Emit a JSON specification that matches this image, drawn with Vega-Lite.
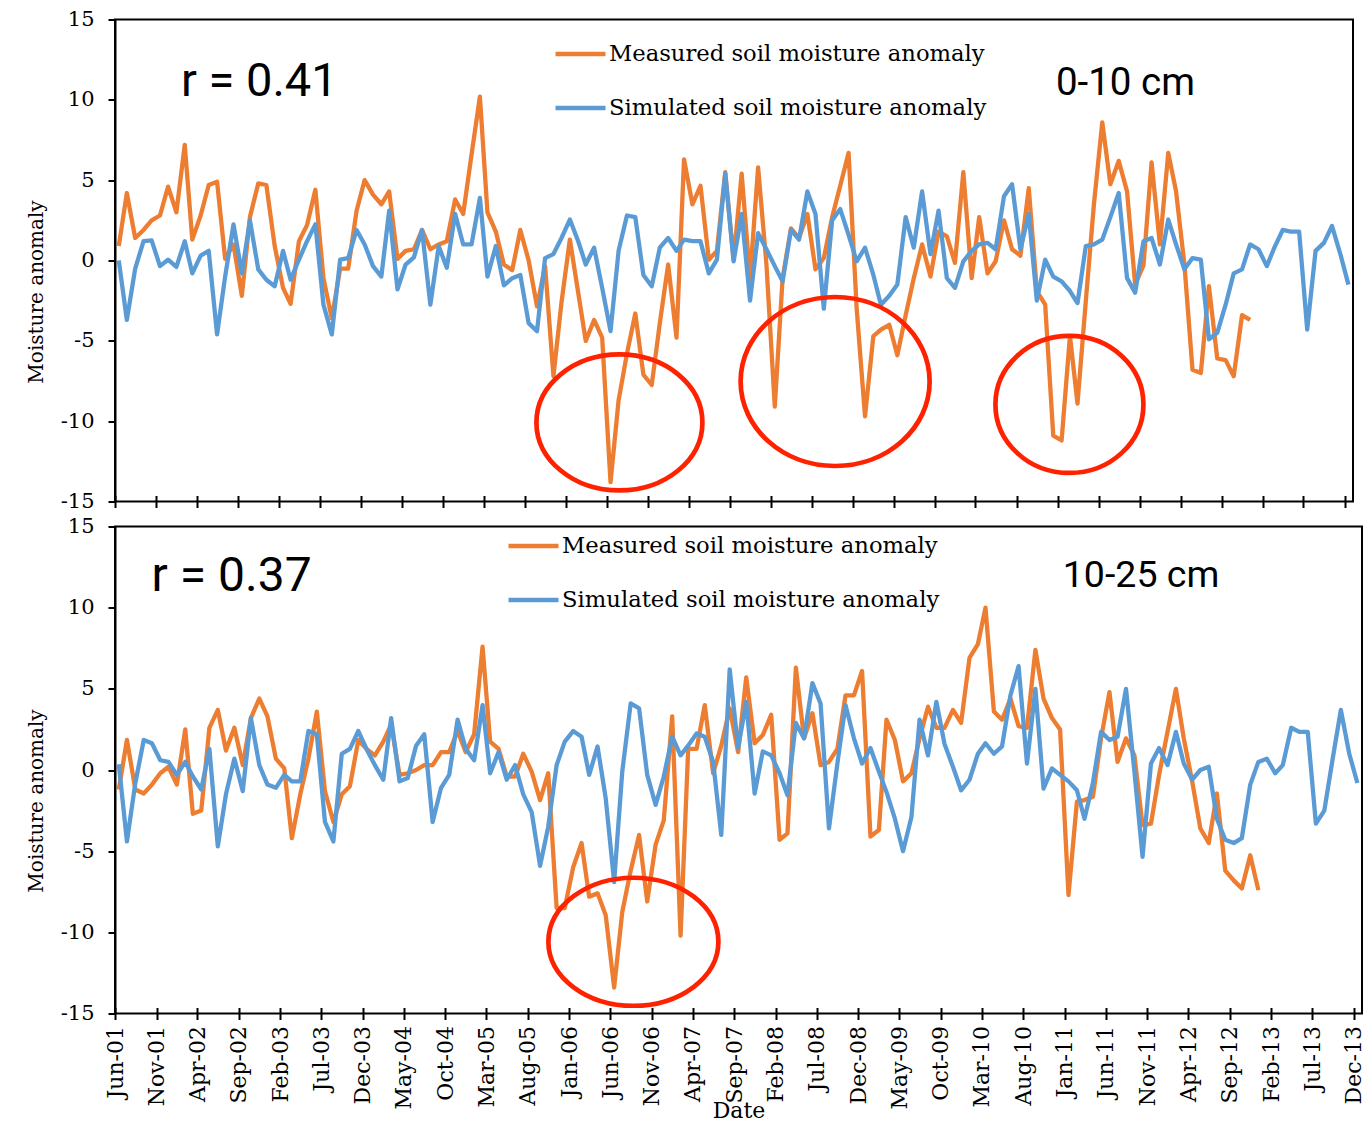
{
  "$schema": "https://vega.github.io/schema/vega-lite/v6.json",
  "background": "white",
  "padding": {"left": 25, "top": 7.5, "right": 5, "bottom": 0},
  "spacing": 2,
  "datasets": {
    "soil": [
      {"date":"2001-06-15","m1":0.9,"s1":0,"m2":-1.2,"s2":0.35},
      {"date":"2001-07-15","m1":4.2,"s1":-3.7,"m2":1.85,"s2":-4.4},
      {"date":"2001-08-15","m1":1.4,"s1":-0.5,"m2":-1.2,"s2":-0.8},
      {"date":"2001-09-15","m1":1.9,"s1":1.2,"m2":-1.45,"s2":1.85},
      {"date":"2001-10-15","m1":2.5,"s1":1.25,"m2":-0.9,"s2":1.65},
      {"date":"2001-11-15","m1":2.8,"s1":-0.35,"m2":-0.2,"s2":0.6},
      {"date":"2001-12-15","m1":4.6,"s1":0.05,"m2":0.2,"s2":0.5},
      {"date":"2002-01-15","m1":3.0,"s1":-0.4,"m2":-0.9,"s2":-0.3},
      {"date":"2002-02-15","m1":7.2,"s1":1.2,"m2":2.5,"s2":0.5},
      {"date":"2002-03-15","m1":1.3,"s1":-0.8,"m2":-2.7,"s2":-0.4},
      {"date":"2002-04-15","m1":2.8,"s1":0.3,"m2":-2.5,"s2":-1.2},
      {"date":"2002-05-15","m1":4.7,"s1":0.6,"m2":2.6,"s2":1.3},
      {"date":"2002-06-15","m1":4.9,"s1":-4.6,"m2":3.7,"s2":-4.7},
      {"date":"2002-07-15","m1":0.1,"s1":-1.0,"m2":1.2,"s2":-1.5},
      {"date":"2002-08-15","m1":1.0,"s1":2.25,"m2":2.6,"s2":0.7},
      {"date":"2002-09-15","m1":-2.2,"s1":-0.8,"m2":0.3,"s2":-1.3},
      {"date":"2002-10-15","m1":2.7,"s1":2.5,"m2":3.2,"s2":3.2},
      {"date":"2002-11-15","m1":4.8,"s1":-0.55,"m2":4.4,"s2":0.3},
      {"date":"2002-12-15","m1":4.7,"s1":-1.2,"m2":3.3,"s2":-0.9},
      {"date":"2003-01-15","m1":0.9,"s1":-1.6,"m2":0.7,"s2":-1.1},
      {"date":"2003-02-15","m1":-1.7,"s1":0.6,"m2":0.1,"s2":-0.3},
      {"date":"2003-03-15","m1":-2.7,"s1":-1.2,"m2":-4.2,"s2":-0.7},
      {"date":"2003-04-15","m1":1.2,"s1":0.05,"m2":-1.5,"s2":-0.7},
      {"date":"2003-05-15","m1":2.2,"s1":1.2,"m2":0.7,"s2":2.4},
      {"date":"2003-06-15","m1":4.4,"s1":2.25,"m2":3.6,"s2":2.2},
      {"date":"2003-07-15","m1":-1.1,"s1":-2.75,"m2":-1.3,"s2":-3.2},
      {"date":"2003-08-15","m1":-3.6,"s1":-4.6,"m2":-3.2,"s2":-4.4},
      {"date":"2003-09-15","m1":-0.5,"s1":0.05,"m2":-1.5,"s2":1.0},
      {"date":"2003-10-15","m1":-0.5,"s1":0.15,"m2":-1.0,"s2":1.3},
      {"date":"2003-11-15","m1":3.1,"s1":1.9,"m2":1.85,"s2":2.4},
      {"date":"2003-12-15","m1":5.0,"s1":1.0,"m2":1.3,"s2":1.3},
      {"date":"2004-01-15","m1":4.1,"s1":-0.35,"m2":0.9,"s2":0.3},
      {"date":"2004-02-15","m1":3.5,"s1":-1.0,"m2":1.75,"s2":-0.6},
      {"date":"2004-03-15","m1":4.3,"s1":3.1,"m2":2.8,"s2":3.2},
      {"date":"2004-04-15","m1":0.1,"s1":-1.8,"m2":-0.3,"s2":-0.7},
      {"date":"2004-05-15","m1":0.6,"s1":-0.25,"m2":-0.2,"s2":-0.5},
      {"date":"2004-06-15","m1":0.7,"s1":0.2,"m2":0.0,"s2":1.5},
      {"date":"2004-07-15","m1":1.9,"s1":1.9,"m2":0.3,"s2":2.2},
      {"date":"2004-08-15","m1":0.7,"s1":-2.75,"m2":0.3,"s2":-3.2},
      {"date":"2004-09-15","m1":1.0,"s1":0.9,"m2":1.1,"s2":-1.1},
      {"date":"2004-10-15","m1":1.2,"s1":-0.45,"m2":1.1,"s2":-0.3},
      {"date":"2004-11-15","m1":3.8,"s1":2.9,"m2":2.4,"s2":3.1},
      {"date":"2004-12-15","m1":2.9,"s1":1.0,"m2":1.1,"s2":1.3},
      {"date":"2005-01-15","m1":6.6,"s1":1.0,"m2":2.2,"s2":0.6},
      {"date":"2005-02-15","m1":10.2,"s1":3.9,"m2":7.6,"s2":4.0},
      {"date":"2005-03-15","m1":3.0,"s1":-1.0,"m2":1.75,"s2":-0.2},
      {"date":"2005-04-15","m1":1.8,"s1":0.9,"m2":1.3,"s2":1.1},
      {"date":"2005-05-15","m1":-0.25,"s1":-1.55,"m2":-0.4,"s2":-0.6},
      {"date":"2005-06-15","m1":-0.6,"s1":-1.1,"m2":-0.4,"s2":0.3},
      {"date":"2005-07-15","m1":1.9,"s1":-0.9,"m2":1.0,"s2":-1.5},
      {"date":"2005-08-15","m1":0.0,"s1":-3.9,"m2":-0.1,"s2":-2.6},
      {"date":"2005-09-15","m1":-2.85,"s1":-4.4,"m2":-1.85,"s2":-5.9},
      {"date":"2005-10-15","m1":-0.35,"s1":0.15,"m2":-0.2,"s2":-3.5},
      {"date":"2005-11-15","m1":-7.2,"s1":0.4,"m2":-8.5,"s2":0.3},
      {"date":"2005-12-15","m1":-2.6,"s1":1.4,"m2":-8.5,"s2":1.75},
      {"date":"2006-01-15","m1":1.3,"s1":2.55,"m2":-6.0,"s2":2.4},
      {"date":"2006-02-15","m1":-2.0,"s1":1.2,"m2":-4.5,"s2":2.05},
      {"date":"2006-03-15","m1":-5.0,"s1":-0.25,"m2":-7.8,"s2":-0.3},
      {"date":"2006-04-15","m1":-3.7,"s1":0.8,"m2":-7.6,"s2":1.45},
      {"date":"2006-05-15","m1":-4.8,"s1":-1.7,"m2":-8.95,"s2":-1.75},
      {"date":"2006-06-15","m1":-13.8,"s1":-4.4,"m2":-13.4,"s2":-6.9},
      {"date":"2006-07-15","m1":-8.7,"s1":0.6,"m2":-8.75,"s2":-0.1},
      {"date":"2006-08-15","m1":-5.8,"s1":2.8,"m2":-6.2,"s2":4.1},
      {"date":"2006-09-15","m1":-3.3,"s1":2.7,"m2":-4.0,"s2":3.8},
      {"date":"2006-10-15","m1":-7.1,"s1":-0.9,"m2":-8.1,"s2":-0.3},
      {"date":"2006-11-15","m1":-7.75,"s1":-1.6,"m2":-4.6,"s2":-2.15},
      {"date":"2006-12-15","m1":-3.9,"s1":0.8,"m2":-3.1,"s2":-0.4},
      {"date":"2007-01-15","m1":-0.25,"s1":1.4,"m2":3.3,"s2":2.05},
      {"date":"2007-02-15","m1":-4.8,"s1":0.6,"m2":-10.2,"s2":0.9},
      {"date":"2007-03-15","m1":6.3,"s1":1.3,"m2":1.3,"s2":1.5},
      {"date":"2007-04-15","m1":3.5,"s1":1.2,"m2":1.3,"s2":2.25},
      {"date":"2007-05-15","m1":4.65,"s1":1.2,"m2":4.0,"s2":2.05},
      {"date":"2007-06-15","m1":0.05,"s1":-0.8,"m2":-0.2,"s2":0.5},
      {"date":"2007-07-15","m1":0.6,"s1":0.05,"m2":1.5,"s2":-4.0},
      {"date":"2007-08-15","m1":5.5,"s1":5.4,"m2":3.8,"s2":6.2},
      {"date":"2007-09-15","m1":0.05,"s1":-0.05,"m2":1.1,"s2":1.35},
      {"date":"2007-10-15","m1":5.4,"s1":2.9,"m2":5.7,"s2":4.2},
      {"date":"2007-11-15","m1":-1.1,"s1":-2.5,"m2":1.65,"s2":-1.45},
      {"date":"2007-12-15","m1":5.8,"s1":1.7,"m2":2.15,"s2":1.15},
      {"date":"2008-01-15","m1":-0.25,"s1":0.7,"m2":3.4,"s2":0.9},
      {"date":"2008-02-15","m1":-9.1,"s1":-0.35,"m2":-4.3,"s2":-0.2},
      {"date":"2008-03-15","m1":-1.1,"s1":-1.3,"m2":-3.9,"s2":-1.55},
      {"date":"2008-04-15","m1":2.0,"s1":1.9,"m2":6.3,"s2":2.9},
      {"date":"2008-05-15","m1":1.4,"s1":1.3,"m2":1.95,"s2":1.95},
      {"date":"2008-06-15","m1":2.9,"s1":4.3,"m2":3.5,"s2":5.35},
      {"date":"2008-07-15","m1":-0.55,"s1":2.9,"m2":0.3,"s2":4.1},
      {"date":"2008-08-15","m1":0.15,"s1":-3.0,"m2":0.5,"s2":-3.6},
      {"date":"2008-09-15","m1":2.7,"s1":2.5,"m2":1.3,"s2":0.4},
      {"date":"2008-10-15","m1":4.65,"s1":3.2,"m2":4.6,"s2":4.0},
      {"date":"2008-11-15","m1":6.7,"s1":1.6,"m2":4.6,"s2":1.95},
      {"date":"2008-12-15","m1":-3.0,"s1":-0.05,"m2":6.1,"s2":0.4},
      {"date":"2009-01-15","m1":-9.7,"s1":0.8,"m2":-4.1,"s2":1.35},
      {"date":"2009-02-15","m1":-4.7,"s1":-0.9,"m2":-3.7,"s2":-0.1},
      {"date":"2009-03-15","m1":-4.3,"s1":-2.75,"m2":3.1,"s2":-1.35},
      {"date":"2009-04-15","m1":-4.0,"s1":-2.2,"m2":1.85,"s2":-3.0},
      {"date":"2009-05-15","m1":-5.9,"s1":-1.5,"m2":-0.7,"s2":-5.0},
      {"date":"2009-06-15","m1":-3.4,"s1":2.7,"m2":-0.2,"s2":-2.9},
      {"date":"2009-07-15","m1":-1.1,"s1":0.8,"m2":1.95,"s2":3.1},
      {"date":"2009-08-15","m1":1.0,"s1":4.3,"m2":3.9,"s2":0.9},
      {"date":"2009-09-15","m1":-1.0,"s1":0.4,"m2":2.6,"s2":4.2},
      {"date":"2009-10-15","m1":1.8,"s1":3.1,"m2":2.6,"s2":1.6},
      {"date":"2009-11-15","m1":1.5,"s1":-1.1,"m2":3.7,"s2":0.2},
      {"date":"2009-12-15","m1":-0.15,"s1":-1.7,"m2":2.9,"s2":-1.25},
      {"date":"2010-01-15","m1":5.5,"s1":-0.05,"m2":6.9,"s2":-0.6},
      {"date":"2010-02-15","m1":-1.1,"s1":0.6,"m2":7.75,"s2":1.0},
      {"date":"2010-03-15","m1":2.7,"s1":1.0,"m2":10.0,"s2":1.65},
      {"date":"2010-04-15","m1":-0.8,"s1":1.1,"m2":3.6,"s2":1.0},
      {"date":"2010-05-15","m1":-0.05,"s1":0.7,"m2":3.1,"s2":1.45},
      {"date":"2010-06-15","m1":2.5,"s1":4.0,"m2":4.4,"s2":4.6},
      {"date":"2010-07-15","m1":0.7,"s1":4.75,"m2":2.7,"s2":6.4},
      {"date":"2010-08-15","m1":0.3,"s1":0.7,"m2":2.6,"s2":0.4},
      {"date":"2010-09-15","m1":4.5,"s1":2.9,"m2":7.4,"s2":5.0},
      {"date":"2010-10-15","m1":-1.9,"s1":-2.5,"m2":4.4,"s2":-1.15},
      {"date":"2010-11-15","m1":-2.75,"s1":0.05,"m2":3.2,"s2":0.1},
      {"date":"2010-12-15","m1":-10.9,"s1":-1.0,"m2":2.5,"s2":-0.3},
      {"date":"2011-01-15","m1":-11.2,"s1":-1.3,"m2":-7.7,"s2":-0.7},
      {"date":"2011-02-15","m1":-4.7,"s1":-1.9,"m2":-1.95,"s2":-1.25},
      {"date":"2011-03-15","m1":-8.9,"s1":-2.65,"m2":-1.85,"s2":-3.0},
      {"date":"2011-04-15","m1":-2.5,"s1":0.9,"m2":-1.65,"s2":-0.8},
      {"date":"2011-05-15","m1":3.5,"s1":1.0,"m2":1.95,"s2":2.35},
      {"date":"2011-06-15","m1":8.6,"s1":1.3,"m2":4.8,"s2":1.85},
      {"date":"2011-07-15","m1":4.75,"s1":2.7,"m2":0.5,"s2":2.05},
      {"date":"2011-08-15","m1":6.2,"s1":4.2,"m2":1.95,"s2":5.0},
      {"date":"2011-09-15","m1":4.3,"s1":-1.1,"m2":0.9,"s2":-0.1},
      {"date":"2011-10-15","m1":-1.5,"s1":-2.0,"m2":-3.4,"s2":-5.35},
      {"date":"2011-11-15","m1":-0.3,"s1":1.2,"m2":-3.3,"s2":0.4},
      {"date":"2011-12-15","m1":6.1,"s1":1.4,"m2":-0.3,"s2":1.35},
      {"date":"2012-01-15","m1":1.0,"s1":-0.25,"m2":2.35,"s2":0.3},
      {"date":"2012-02-15","m1":6.7,"s1":2.55,"m2":5.0,"s2":2.35},
      {"date":"2012-03-15","m1":4.3,"s1":1.0,"m2":1.95,"s2":0.4},
      {"date":"2012-04-15","m1":-0.25,"s1":-0.55,"m2":-0.7,"s2":-0.6},
      {"date":"2012-05-15","m1":-6.8,"s1":0.15,"m2":-3.6,"s2":0.0},
      {"date":"2012-06-15","m1":-7.0,"s1":0.05,"m2":-4.5,"s2":0.2},
      {"date":"2012-07-15","m1":-1.6,"s1":-4.9,"m2":-1.45,"s2":-3.0},
      {"date":"2012-08-15","m1":-6.1,"s1":-4.5,"m2":-6.2,"s2":-4.3},
      {"date":"2012-09-15","m1":-6.2,"s1":-2.75,"m2":-6.8,"s2":-4.5},
      {"date":"2012-10-15","m1":-7.2,"s1":-0.8,"m2":-7.3,"s2":-4.2},
      {"date":"2012-11-15","m1":-3.4,"s1":-0.55,"m2":-5.25,"s2":-0.9},
      {"date":"2012-12-15","m1":-3.7,"s1":1.0,"m2":-7.4,"s2":0.5},
      {"date":"2013-01-15","s1":0.7,"s2":0.7},
      {"date":"2013-02-15","s1":-0.35,"s2":-0.2},
      {"date":"2013-03-15","s1":0.8,"s2":0.3},
      {"date":"2013-04-15","s1":1.9,"s2":2.6},
      {"date":"2013-05-15","s1":1.8,"s2":2.35},
      {"date":"2013-06-15","s1":1.8,"s2":2.35},
      {"date":"2013-07-15","s1":-4.3,"s2":-3.3},
      {"date":"2013-08-15","s1":0.6,"s2":-2.5},
      {"date":"2013-09-15","s1":1.1,"s2":0.7},
      {"date":"2013-10-15","s1":2.15,"s2":3.7},
      {"date":"2013-11-15","s1":0.4,"s2":1.0},
      {"date":"2013-12-15","s1":-1.5,"s2":-0.8}
    ]
  },
  "vconcat": [
    {
      "width": 1238,
      "height": 482,
      "layer": [
        {
          "data": {"name": "soil"},
          "mark": {"type": "line", "strokeWidth": 4.3, "strokeJoin": "round"},
          "encoding": {
            "x": {"field": "date", "type": "temporal", "title": null,
              "scale": {"type": "utc", "domain": [{"year":2001,"month":6,"date":1,"utc":true},{"year":2014,"month":1,"date":1,"utc":true}]},
              "axis": {"labels": false, "domain": false, "tickSize": 12, "offset": -6, "title": null,
                "values": [{"year":2001,"month":6,"date":1,"utc":true},{"year":2001,"month":11,"date":1,"utc":true},{"year":2002,"month":4,"date":1,"utc":true},{"year":2002,"month":9,"date":1,"utc":true},{"year":2003,"month":2,"date":1,"utc":true},{"year":2003,"month":7,"date":1,"utc":true},{"year":2003,"month":12,"date":1,"utc":true},{"year":2004,"month":5,"date":1,"utc":true},{"year":2004,"month":10,"date":1,"utc":true},{"year":2005,"month":3,"date":1,"utc":true},{"year":2005,"month":8,"date":1,"utc":true},{"year":2006,"month":1,"date":1,"utc":true},{"year":2006,"month":6,"date":1,"utc":true},{"year":2006,"month":11,"date":1,"utc":true},{"year":2007,"month":4,"date":1,"utc":true},{"year":2007,"month":9,"date":1,"utc":true},{"year":2008,"month":2,"date":1,"utc":true},{"year":2008,"month":7,"date":1,"utc":true},{"year":2008,"month":12,"date":1,"utc":true},{"year":2009,"month":5,"date":1,"utc":true},{"year":2009,"month":10,"date":1,"utc":true},{"year":2010,"month":3,"date":1,"utc":true},{"year":2010,"month":8,"date":1,"utc":true},{"year":2011,"month":1,"date":1,"utc":true},{"year":2011,"month":6,"date":1,"utc":true},{"year":2011,"month":11,"date":1,"utc":true},{"year":2012,"month":4,"date":1,"utc":true},{"year":2012,"month":9,"date":1,"utc":true},{"year":2013,"month":2,"date":1,"utc":true},{"year":2013,"month":7,"date":1,"utc":true},{"year":2013,"month":12,"date":1,"utc":true}]}},
            "y": {"field": "m1", "type": "quantitative", "title": "Moisture anomaly",
              "scale": {"domain": [-15, 15], "nice": false, "zero": false},
              "axis": {"values": [-15,-10,-5,0,5,10,15], "labelExpr": "'' + datum.value", "labelFontSize": 21, "labelPadding": 14, "tickSize": 7,
                "titleFontSize": 20, "titleAngle": 270, "titleAlign": "center", "titleBaseline": "middle", "titleX": -79, "titleY": 272}},
            "color": {"datum": "Measured soil moisture anomaly", "type": "nominal",
              "scale": {"domain": ["Measured soil moisture anomaly", "Simulated soil moisture anomaly"], "range": ["#ED7D31", "#5B9BD5"]},
              "legend": {"orient": "none", "legendX": 438, "legendY": 7, "title": null, "symbolType": "stroke", "symbolSize": 2500, "symbolStrokeWidth": 4.3,
                "labelFont": "DejaVu Serif", "labelFontSize": 22.7, "labelColor": "#000", "labelLimit": 700, "labelOffset": 1, "rowPadding": 14, "padding": 0}}
          }
        },
        {
          "data": {"name": "soil"},
          "mark": {"type": "line", "strokeWidth": 4.3, "strokeJoin": "round"},
          "encoding": {
            "x": {"field": "date", "type": "temporal", "title": null},
            "y": {"field": "s1", "type": "quantitative", "title": "Moisture anomaly"},
            "color": {"datum": "Simulated soil moisture anomaly", "type": "nominal"}
          }
        },
        {
          "data": {"values": [
            {"id": "e1", "date": "2006-07-18", "value": -10.08},
            {"id": "e2", "date": "2008-09-26", "value": -7.53},
            {"id": "e3", "date": "2011-02-13", "value": -8.96}
          ]},
          "mark": {"type": "point", "filled": false, "color": "#ff2200", "strokeWidth": 4.7, "size": 4, "opacity": 1},
          "encoding": {
            "x": {"field": "date", "type": "temporal", "title": null},
            "y": {"field": "value", "type": "quantitative", "title": "Moisture anomaly"},
            "shape": {"field": "id", "type": "nominal", "legend": null,
              "scale": {"domain": ["e1", "e2", "e3", "e4"], "range": [
                "M83,0C83,37.56 45.84,68 0,68C-45.84,68 -83,37.56 -83,0C-83,-37.56 -45.84,-68 0,-68C45.84,-68 83,-37.56 83,0Z",
                "M94.5,0C94.5,46.67 52.19,84.5 0,84.5C-52.19,84.5 -94.5,46.67 -94.5,0C-94.5,-46.67 -52.19,-84.5 0,-84.5C52.19,-84.5 94.5,-46.67 94.5,0Z",
                "M74,0C74,37.83 40.87,68.5 0,68.5C-40.87,68.5 -74,37.83 -74,0C-74,-37.83 -40.87,-68.5 0,-68.5C40.87,-68.5 74,-37.83 74,0Z",
                "M85,0C85,35.35 46.95,64 0,64C-46.95,64 -85,35.35 -85,0C-85,-35.35 -46.95,-64 0,-64C46.95,-64 85,-35.35 85,0Z"
              ]}}
          }
        },
        {
          "data": {"values": [{"date": "2002-02-01", "value": 10.21, "label": "r = 0.41"}]},
          "mark": {"type": "text", "font": "Roboto", "fontSize": 47, "align": "left", "baseline": "alphabetic", "color": "#000"},
          "encoding": {
            "x": {"field": "date", "type": "temporal", "title": null},
            "y": {"field": "value", "type": "quantitative", "title": "Moisture anomaly"},
            "text": {"field": "label"}
          }
        },
        {
          "data": {"values": [{"date": "2010-12-25", "value": 10.31, "label": "0-10 cm"}]},
          "mark": {"type": "text", "font": "Roboto", "fontSize": 38.5, "align": "left", "baseline": "alphabetic", "color": "#000"},
          "encoding": {
            "x": {"field": "date", "type": "temporal", "title": null},
            "y": {"field": "value", "type": "quantitative", "title": "Moisture anomaly"},
            "text": {"field": "label"}
          }
        }
      ]
    },
    {
      "width": 1247,
      "height": 487,
      "layer": [
        {
          "data": {"name": "soil"},
          "mark": {"type": "line", "strokeWidth": 4.3, "strokeJoin": "round"},
          "encoding": {
            "x": {"field": "date", "type": "temporal", "title": "Date",
              "scale": {"type": "utc", "domain": [{"year":2001,"month":6,"date":1,"utc":true},{"year":2014,"month":1,"date":1,"utc":true}]},
              "axis": {"labelExpr": "utcFormat(datum.value, '%b-%y')", "labelAngle": 270, "labelFontSize": 22, "labelPadding": 6, "labelOverlap": false, "labelFlush": false,
                "domain": false, "tickSize": 12, "offset": -6, "titleFontSize": 22, "titlePadding": -8,
                "values": [{"year":2001,"month":6,"date":1,"utc":true},{"year":2001,"month":11,"date":1,"utc":true},{"year":2002,"month":4,"date":1,"utc":true},{"year":2002,"month":9,"date":1,"utc":true},{"year":2003,"month":2,"date":1,"utc":true},{"year":2003,"month":7,"date":1,"utc":true},{"year":2003,"month":12,"date":1,"utc":true},{"year":2004,"month":5,"date":1,"utc":true},{"year":2004,"month":10,"date":1,"utc":true},{"year":2005,"month":3,"date":1,"utc":true},{"year":2005,"month":8,"date":1,"utc":true},{"year":2006,"month":1,"date":1,"utc":true},{"year":2006,"month":6,"date":1,"utc":true},{"year":2006,"month":11,"date":1,"utc":true},{"year":2007,"month":4,"date":1,"utc":true},{"year":2007,"month":9,"date":1,"utc":true},{"year":2008,"month":2,"date":1,"utc":true},{"year":2008,"month":7,"date":1,"utc":true},{"year":2008,"month":12,"date":1,"utc":true},{"year":2009,"month":5,"date":1,"utc":true},{"year":2009,"month":10,"date":1,"utc":true},{"year":2010,"month":3,"date":1,"utc":true},{"year":2010,"month":8,"date":1,"utc":true},{"year":2011,"month":1,"date":1,"utc":true},{"year":2011,"month":6,"date":1,"utc":true},{"year":2011,"month":11,"date":1,"utc":true},{"year":2012,"month":4,"date":1,"utc":true},{"year":2012,"month":9,"date":1,"utc":true},{"year":2013,"month":2,"date":1,"utc":true},{"year":2013,"month":7,"date":1,"utc":true},{"year":2013,"month":12,"date":1,"utc":true}]}},
            "y": {"field": "m2", "type": "quantitative", "title": "Moisture anomaly",
              "scale": {"domain": [-15, 15], "nice": false, "zero": false},
              "axis": {"values": [-15,-10,-5,0,5,10,15], "labelExpr": "'' + datum.value", "labelFontSize": 21, "labelPadding": 14, "tickSize": 7,
                "titleFontSize": 20, "titleAngle": 270, "titleAlign": "center", "titleBaseline": "middle", "titleX": -79, "titleY": 274}},
            "color": {"datum": "Measured soil moisture anomaly", "type": "nominal",
              "scale": {"domain": ["Measured soil moisture anomaly", "Simulated soil moisture anomaly"], "range": ["#ED7D31", "#5B9BD5"]},
              "legend": {"orient": "none", "legendX": 391, "legendY": -8, "title": null, "symbolType": "stroke", "symbolSize": 2500, "symbolStrokeWidth": 4.3,
                "labelFont": "DejaVu Serif", "labelFontSize": 22.7, "labelColor": "#000", "labelLimit": 700, "labelOffset": 1, "rowPadding": 14, "padding": 0}}
          }
        },
        {
          "data": {"name": "soil"},
          "mark": {"type": "line", "strokeWidth": 4.3, "strokeJoin": "round"},
          "encoding": {
            "x": {"field": "date", "type": "temporal", "title": "Date"},
            "y": {"field": "s2", "type": "quantitative", "title": "Moisture anomaly"},
            "color": {"datum": "Simulated soil moisture anomaly", "type": "nominal"}
          }
        },
        {
          "data": {"values": [
            {"id": "e4", "date": "2006-08-25", "value": -10.58}
          ]},
          "mark": {"type": "point", "filled": false, "color": "#ff2200", "strokeWidth": 4.7, "size": 4, "opacity": 1},
          "encoding": {
            "x": {"field": "date", "type": "temporal", "title": "Date"},
            "y": {"field": "value", "type": "quantitative", "title": "Moisture anomaly"},
            "shape": {"field": "id", "type": "nominal", "legend": null}
          }
        },
        {
          "data": {"values": [{"date": "2001-10-14", "value": 11.04, "label": "r = 0.37"}]},
          "mark": {"type": "text", "font": "Roboto", "fontSize": 48, "align": "left", "baseline": "alphabetic", "color": "#000"},
          "encoding": {
            "x": {"field": "date", "type": "temporal", "title": "Date"},
            "y": {"field": "value", "type": "quantitative", "title": "Moisture anomaly"},
            "text": {"field": "label"}
          }
        },
        {
          "data": {"values": [{"date": "2010-12-25", "value": 11.29, "label": "10-25 cm"}]},
          "mark": {"type": "text", "font": "Roboto", "fontSize": 37.5, "align": "left", "baseline": "alphabetic", "color": "#000"},
          "encoding": {
            "x": {"field": "date", "type": "temporal", "title": "Date"},
            "y": {"field": "value", "type": "quantitative", "title": "Moisture anomaly"},
            "text": {"field": "label"}
          }
        }
      ]
    }
  ],
  "resolve": {"scale": {"color": "independent"}, "legend": {"color": "independent"}},
  "config": {
    "view": {"stroke": "#000", "strokeWidth": 2},
    "axis": {"grid": false, "domainColor": "#000", "domainWidth": 2, "tickColor": "#000", "tickWidth": 2,
      "labelColor": "#000", "titleColor": "#000", "labelFont": "DejaVu Serif", "titleFont": "DejaVu Serif", "titleFontWeight": "normal"},
    "legend": {"labelColor": "#000"}
  }
}
